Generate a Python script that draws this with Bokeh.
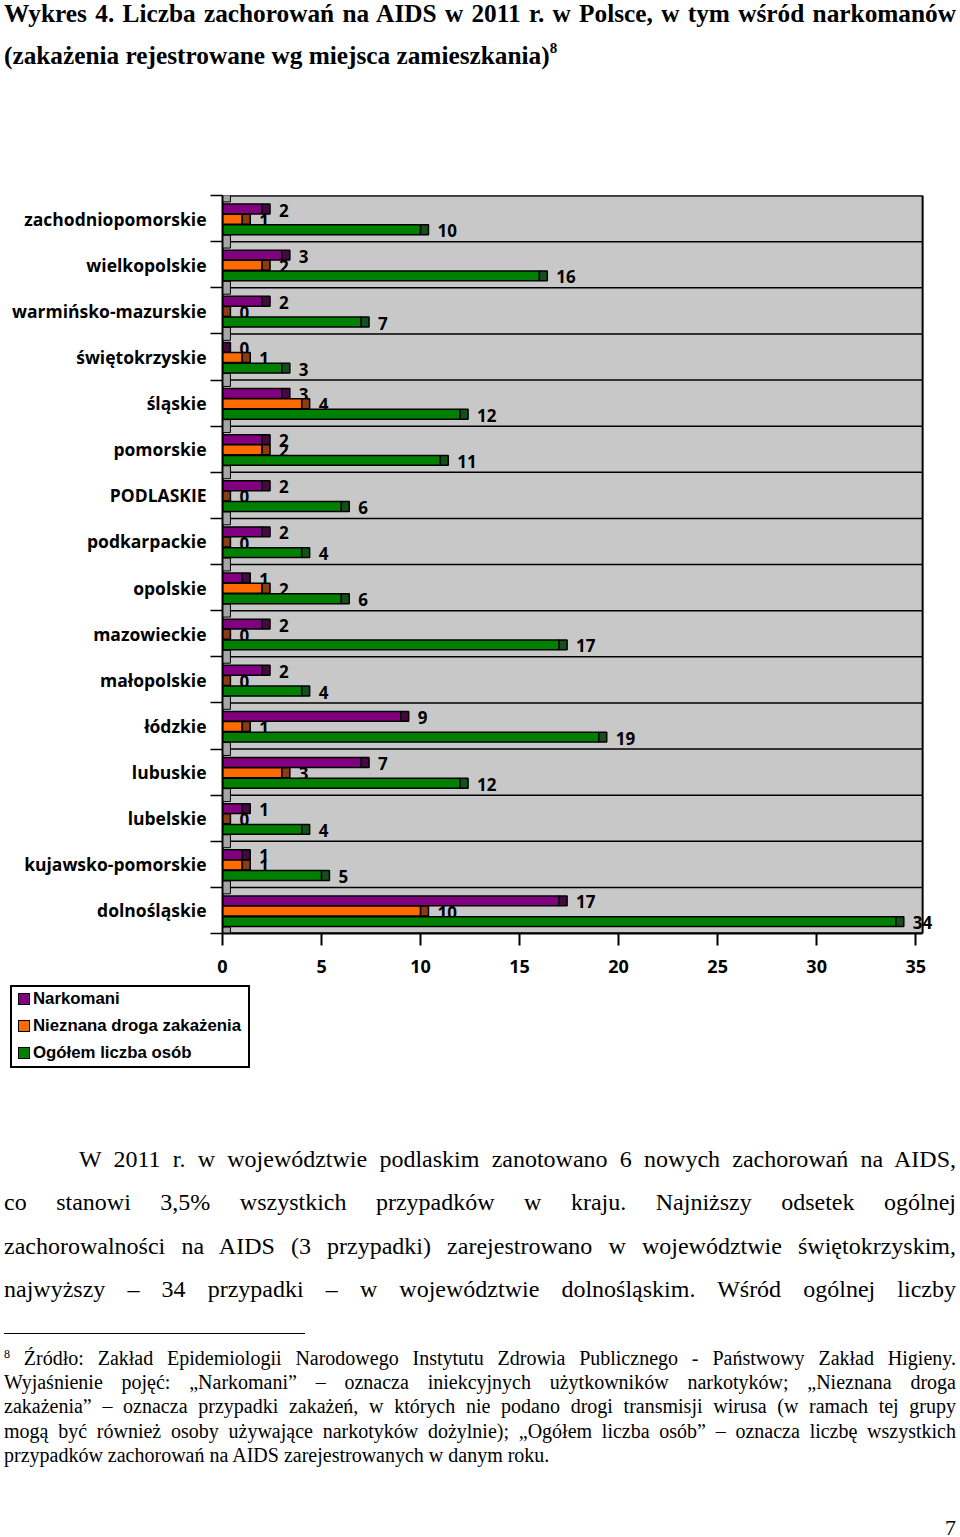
from bokeh.plotting import figure
from bokeh.models import Range1d, FixedTicker, Div, ColumnDataSource
from bokeh.layouts import column
from bokeh.embed import file_html
from bokeh.resources import INLINE
from bokeh.core.properties import value

# ---------------- data ----------------
categories = ["zachodniopomorskie", "wielkopolskie", "warmińsko-mazurskie", "świętokrzyskie",
              "śląskie", "pomorskie", "PODLASKIE", "podkarpackie", "opolskie", "mazowieckie",
              "małopolskie", "łódzkie", "lubuskie", "lubelskie", "kujawsko-pomorskie", "dolnośląskie"]
narkomani = [2, 3, 2, 0, 3, 2, 2, 2, 1, 2, 2, 9, 7, 1, 1, 17]
nieznana = [1, 2, 0, 1, 4, 2, 0, 0, 2, 0, 0, 1, 3, 0, 1, 10]
ogolem = [10, 16, 7, 3, 12, 11, 6, 4, 6, 17, 4, 19, 12, 4, 5, 34]
x_ticks = [0, 5, 10, 15, 20, 25, 30, 35]
x_max = 35.35
series_names = ["Narkomani", "Nieznana droga zakażenia", "Ogółem liczba osób"]

title_line1 = "Wykres 4. Liczba zachorowań na AIDS w 2011 r. w Polsce, w tym wśród narkomanów"
title_line2 = "(zakażenia rejestrowane wg miejsca zamieszkania)"
paragraph_lines = [
    "W 2011 r. w województwie podlaskim zanotowano 6 nowych zachorowań na AIDS,",
    "co stanowi 3,5% wszystkich przypadków w kraju. Najniższy odsetek ogólnej",
    "zachorowalności na AIDS (3 przypadki) zarejestrowano w województwie świętokrzyskim,",
    "najwyższy – 34 przypadki – w województwie dolnośląskim. Wśród ogólnej liczby",
]
footnote_lines = [
    "Źródło: Zakład Epidemiologii Narodowego Instytutu Zdrowia Publicznego - Państwowy Zakład Higieny.",
    "Wyjaśnienie pojęć: „Narkomani” – oznacza iniekcyjnych użytkowników narkotyków; „Nieznana droga",
    "zakażenia” – oznacza przypadki zakażeń, w których nie podano drogi transmisji wirusa (w ramach tej grupy",
    "mogą być również osoby używające narkotyków dożylnie); „Ogółem liczba osób” – oznacza liczbę wszystkich",
    "przypadków zachorowań na AIDS zarejestrowanych w danym roku.",
]
page_number = "7"

# ---------------- styles ----------------
face_colors = ["#800080", "#ff6a00", "#008000"]
cap_colors = ["#420a40", "#8a3c12", "#13501c"]
offsets = [0.207, -0.014, -0.243]
bar_h = 0.215
cap_w = 0.4
n = len(categories)
centers = [n - 1 - i for i in range(n)]
boundaries = [k - 0.5 for k in range(n + 1)]

p = figure(width=956, height=800, output_backend="svg", toolbar_location=None,
           x_range=Range1d(0, 36.0), y_range=Range1d(-0.5, n - 0.5),
           min_border_left=222, min_border_right=21, min_border_top=15, min_border_bottom=47)
p.background_fill_color = "white"
p.border_fill_color = "white"
p.outline_line_color = None
p.xgrid.visible = False
p.ygrid.visible = False

# grey plot wall with border
p.quad(left=[0], right=[x_max], bottom=[-0.5], top=[n - 0.5],
       fill_color="#c8c8c8", line_color="black", line_width=2)
# band boundary lines
p.segment(x0=[0] * len(boundaries), x1=[x_max] * len(boundaries), y0=boundaries, y1=boundaries,
          line_color="black", line_width=1.5)

# x axis
p.xaxis.ticker = FixedTicker(ticks=x_ticks)
p.xaxis.bounds = (0, x_max)
p.xaxis.major_tick_out = 12
p.xaxis.major_tick_in = 0
p.xaxis.minor_tick_out = 0
p.xaxis.minor_tick_in = 0
p.xaxis.major_tick_line_width = 2
p.xaxis.major_tick_line_color = "black"
p.xaxis.axis_line_width = 2
p.xaxis.axis_line_color = "black"
p.xaxis.major_label_text_font = "Open Sans"
p.xaxis.major_label_text_font_style = "bold"
p.xaxis.major_label_text_font_size = "18px"
p.xaxis.major_label_text_color = "black"
p.xaxis.major_label_standoff = 14

# y axis
p.yaxis.ticker = FixedTicker(ticks=centers, minor_ticks=boundaries)
p.yaxis.major_label_overrides = {c: categories[i] for i, c in enumerate(centers)}
p.yaxis.major_tick_out = 0
p.yaxis.major_tick_in = 0
p.yaxis.minor_tick_out = 12
p.yaxis.minor_tick_in = 0
p.yaxis.minor_tick_line_color = "black"
p.yaxis.minor_tick_line_width = 1.5
p.yaxis.axis_line_width = 2
p.yaxis.axis_line_color = "black"
p.yaxis.major_label_text_font = "Open Sans"
p.yaxis.major_label_text_font_style = "bold"
p.yaxis.major_label_text_font_size = "17.5px"
p.yaxis.major_label_text_color = "black"
p.yaxis.major_label_standoff = 4

# small grey depth stubs at the band boundaries
p.rect(x=[cap_w / 2] * len(boundaries), y=boundaries, width=cap_w, height=0.28,
       fill_color="#a6a6a6", line_color="black", line_width=1)

for s, vals in enumerate([narkomani, nieznana, ogolem]):
    ys = [c + offsets[s] for c in centers]
    src = ColumnDataSource(dict(
        y=ys, v=vals, cap_end=[v + cap_w for v in vals],
        lab=[str(v) for v in vals]))
    p.hbar(y="y", left=0, right="v", height=bar_h, source=src,
           fill_color=face_colors[s], line_color="black", line_width=1.5)
    p.hbar(y="y", left="v", right="cap_end", height=bar_h, source=src,
           fill_color=cap_colors[s], line_color="black", line_width=1.5)
    p.text(x="cap_end", y="y", text="lab", source=src, x_offset=9, y_offset=1,
           text_font=value("Open Sans"), text_font_style="bold", text_font_size="17px",
           text_color="black", text_baseline="middle", text_align="left")

# ---------------- legend box ----------------
rows = ""
for i, name in enumerate(series_names):
    rows += ('<div style="position:absolute; box-sizing:border-box; left:6px; top:%dpx; width:12px; height:12px; '
             'background:%s; border:1px solid #000;"></div>' % (6 + 27 * i, face_colors[i]))
    rows += ('<div style="position:absolute; left:21px; top:%dpx; line-height:20px; white-space:nowrap;">%s</div>'
             % (2 + 27 * i, name))
legend_html = ('<div style="position:relative; box-sizing:border-box; left:10px; top:5px; width:240px; height:83px; '
               'border:2px solid #000; background:#fff; font-family:\'Liberation Sans\'; font-weight:bold; '
               'font-size:16.8px; color:#000;">' + rows + '</div>')
div_legend = Div(text=legend_html, width=956, height=95, margin=0)

# ---------------- page texts ----------------
title_html = (
    '<div style="position:relative; left:4px; top:-8px; width:952px; font-family:\'Liberation Serif\';'
    ' font-weight:bold; font-size:25.3px; line-height:42px; color:#000;">'
    '<div style="white-space:nowrap; text-align:justify; text-align-last:justify;">' + title_line1 + '</div>'
    '<div style="white-space:nowrap;">' + title_line2 +
    '<sup style="font-size:15px; line-height:0; vertical-align:11px;">8</sup></div>'
    '</div>'
)
div_title = Div(text=title_html, width=956, height=180, margin=0)

par = ""
for i, line in enumerate(paragraph_lines):
    ind = "padding-left:75px;" if i == 0 else ""
    par += ('<div style="white-space:nowrap; text-align:justify; text-align-last:justify; %s">%s</div>'
            % (ind, line))
foot = ""
for i, line in enumerate(footnote_lines):
    last = i == len(footnote_lines) - 1
    sup = '<sup style="font-size:12px; line-height:0; vertical-align:7px;">8</sup> ' if i == 0 else ""
    al = "" if last else "text-align:justify; text-align-last:justify;"
    foot += '<div style="white-space:nowrap; %s">%s%s</div>' % (al, sup, line)

text_html = (
    '<div style="position:relative; left:4px; width:952px; height:440px; font-family:\'Liberation Serif\'; color:#000;">'
    '<div style="position:absolute; top:63px; left:0; width:952px; font-size:24px; line-height:43.3px;">' + par + '</div>'
    '<div style="position:absolute; top:258px; left:0; width:301px; height:0; border-top:1px solid #000;"></div>'
    '<div style="position:absolute; top:271px; left:0; width:952px; font-size:20px; line-height:24.2px;">' + foot + '</div>'
    '<div style="position:absolute; top:446px; right:0; font-size:22px; line-height:14px;">' + page_number + '</div>'
    '</div>'
)
div_text = Div(text=text_html, width=956, height=450, margin=0)

layout = column(div_title, p, div_legend, div_text, spacing=0)
open("out.html", "w").write(file_html(layout, INLINE))
